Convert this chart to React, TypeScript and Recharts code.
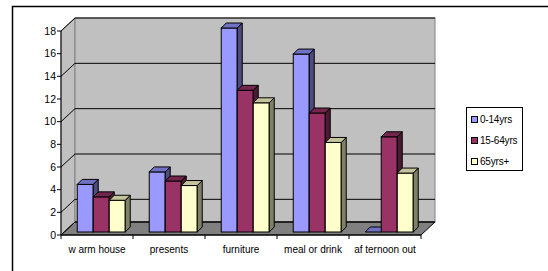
import { BarChart, Bar, XAxis, YAxis, CartesianGrid } from 'recharts';

const categories = ['w arm house', 'presents', 'furniture', 'meal or drink', 'af ternoon out'];
const kids = [4.2, 5.3, 18, 15.7, 0];
const adults = [3.1, 4.5, 12.5, 10.5, 8.4];
const seniors = [2.8, 4.1, 11.4, 7.9, 5.2];
const yTicks = [0, 2, 4, 6, 8, 10, 12, 14, 16, 18];

const SERIES = [
  { key: 'kids', name: '0-14yrs', front: '#9999FF', top: '#7070C4', side: '#4C4C80' },
  { key: 'adults', name: '15-64yrs', front: '#993366', top: '#73264D', side: '#4D1A33' },
  { key: 'seniors', name: '65yrs+', front: '#FFFFCC', top: '#C4C49C', side: '#808066' },
];

const data = categories.map((name, i) => ({
  name,
  kids: kids[i],
  adults: adults[i],
  seniors: seniors[i],
}));

// layout of the fake 3d box (front plane = recharts plot area)
const W = 548;
const H = 271;
const PLOT_LEFT = 61;
const PLOT_TOP = 31;
const PLOT_RIGHT = 421;
const PLOT_BOTTOM = 235;
const DX = 14;
const DY = 13;
const FONT = '"Liberation Sans", Arial, sans-serif';

const makeBar = (s: (typeof SERIES)[number]) => (props: any) => {
  const { x, y, width } = props;
  const h = Math.max(props.height || 0, 0);
  const fx = x + 4;
  const fy = y - 3;
  const d = 5;
  return (
    <g>
      {h > 0 && <rect x={fx} y={fy} width={width} height={h} fill={s.front} stroke="#000" strokeWidth={1} />}
      {h > 0 && (
        <polygon
          points={`${fx + width},${fy} ${fx + width + d},${fy - d} ${fx + width + d},${fy + h - d} ${fx + width},${fy + h}`}
          fill={s.side}
          stroke="#000"
          strokeWidth={1}
        />
      )}
      <polygon
        points={`${fx},${fy} ${fx + d},${fy - d} ${fx + width + d},${fy - d} ${fx + width},${fy}`}
        fill={s.top}
        stroke="#000"
        strokeWidth={1}
      />
    </g>
  );
};

const GridLine = (props: any) => {
  const { x1, x2, y1 } = props;
  return (
    <g>
      <line x1={x1} y1={y1} x2={x1 + DX} y2={y1 - DY} stroke="#000" strokeWidth={1} />
      <line x1={x1 + DX} y1={y1 - DY} x2={x2 + DX} y2={y1 - DY} stroke="#000" strokeWidth={1} />
    </g>
  );
};

const XTick = (props: any) => {
  const { x, payload, index } = props;
  const half = payload && payload.offset ? payload.offset : (PLOT_RIGHT - PLOT_LEFT) / categories.length / 2;
  return (
    <g>
      <line x1={x - half} y1={PLOT_BOTTOM} x2={x - half} y2={PLOT_BOTTOM + 4} stroke="#000" />
      {index === categories.length - 1 && (
        <line x1={x + half} y1={PLOT_BOTTOM} x2={x + half} y2={PLOT_BOTTOM + 4} stroke="#000" />
      )}
      <text x={x} y={252.5} textAnchor="middle" fontSize={10} fill="#000" fontFamily={FONT}>
        {payload.value}
      </text>
    </g>
  );
};

export default function App() {
  return (
    <div style={{ position: 'fixed', left: 0, top: 0, width: W, height: H, background: '#fff' }}>
      <svg width={W} height={H} style={{ position: 'absolute', left: 0, top: 0 }}>
        <rect x={12.5} y={6.5} width={600} height={300} fill="#fff" stroke="#000" strokeWidth={1.5} />
        {/* left wall */}
        <polygon
          points={`${PLOT_LEFT},${PLOT_TOP} ${PLOT_LEFT + DX},${PLOT_TOP - DY} ${PLOT_LEFT + DX},${PLOT_BOTTOM - DY} ${PLOT_LEFT},${PLOT_BOTTOM}`}
          fill="#C0C0C0"
          stroke="#808080"
        />
        {/* back wall */}
        <rect
          x={PLOT_LEFT + DX}
          y={PLOT_TOP - DY}
          width={PLOT_RIGHT - PLOT_LEFT}
          height={PLOT_BOTTOM - PLOT_TOP}
          fill="#C0C0C0"
          stroke="#808080"
        />
        {/* floor */}
        <polygon
          points={`${PLOT_LEFT},${PLOT_BOTTOM} ${PLOT_LEFT + DX},${PLOT_BOTTOM - DY} ${PLOT_RIGHT + DX},${PLOT_BOTTOM - DY} ${PLOT_RIGHT},${PLOT_BOTTOM}`}
          fill="#808080"
          stroke="#000"
        />
      </svg>
      <div style={{ position: 'absolute', left: 0, top: 0 }}>
        <BarChart
          width={W}
          height={H}
          data={data}
          margin={{ top: PLOT_TOP, right: W - PLOT_RIGHT, bottom: 0, left: 0 }}
          barCategoryGap="17%"
          barGap={0}
        >
          <CartesianGrid vertical={false} horizontal={(p: any) => <GridLine key={`g-${p.index}-${p.y1}`} {...p} />} />
          <XAxis
            dataKey="name"
            height={H - PLOT_BOTTOM}
            tickLine={false}
            axisLine={{ stroke: '#000' }}
            tick={<XTick />}
            interval={0}
          />
          <YAxis
            width={PLOT_LEFT}
            domain={[0, 18]}
            ticks={yTicks}
            tickSize={4}
            tickMargin={1}
            axisLine={{ stroke: '#000' }}
            tickLine={{ stroke: '#000' }}
            tick={{ fill: '#000', fontSize: 10.5, fontFamily: FONT }}
          />
          {SERIES.map((s) => (
            <Bar key={s.key} dataKey={s.key} name={s.name} fill={s.front} shape={makeBar(s)} isAnimationActive={false} />
          ))}
        </BarChart>
      </div>
      <div
        style={{
          position: 'absolute',
          left: 466,
          top: 107,
          width: 57,
          height: 64,
          border: '1px solid #000',
          background: '#fff',
          fontFamily: FONT,
          fontSize: 10,
          color: '#000',
          boxSizing: 'border-box',
        }}
      >
        {SERIES.map((s, i) => (
          <div
            key={s.key}
            style={{ position: 'absolute', left: 4, top: 4 + i * 21, height: 14, display: 'flex', alignItems: 'center' }}
          >
            <span
              style={{
                display: 'inline-block',
                width: 5,
                height: 5,
                border: '1px solid #000',
                background: s.front,
                marginRight: 2,
              }}
            />
            <span style={{ whiteSpace: 'nowrap', letterSpacing: -0.2 }}>{s.name}</span>
          </div>
        ))}
      </div>
    </div>
  );
}
